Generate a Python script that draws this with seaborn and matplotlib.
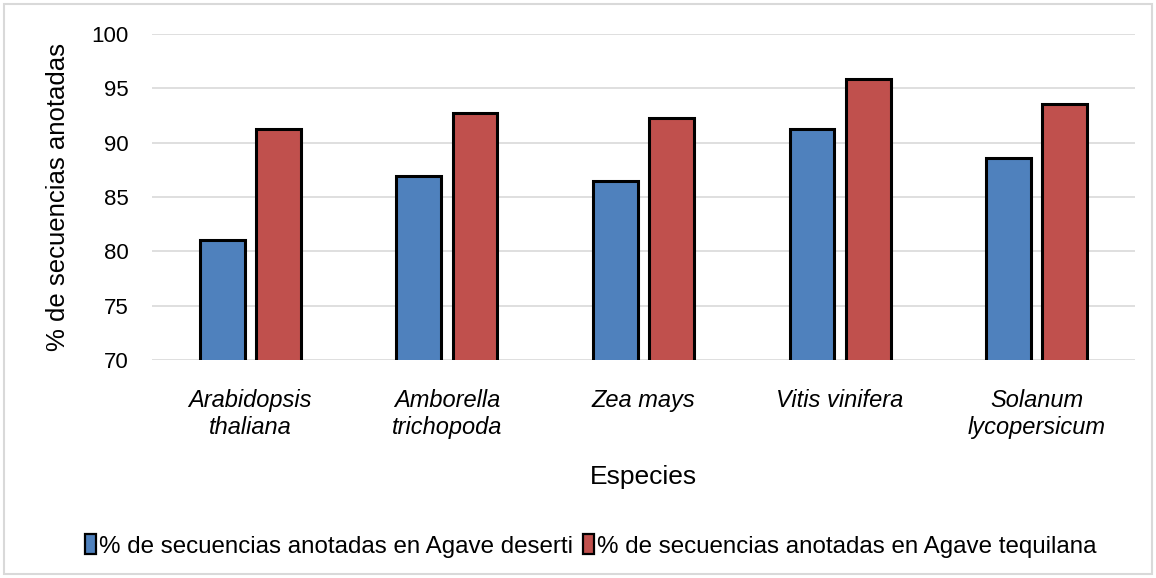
import matplotlib
matplotlib.use("Agg")
import matplotlib.pyplot as plt
import matplotlib.patches as mpatches
import seaborn as sns
import pandas as pd

categories = ["Arabidopsis\nthaliana", "Amborella\ntrichopoda", "Zea mays",
              "Vitis vinifera", "Solanum\nlycopersicum"]
series_names = ["% de secuencias anotadas en Agave deserti",
                "% de secuencias anotadas en Agave tequilana"]
deserti = [81.0, 86.9, 86.5, 91.3, 88.6]
tequilana = [91.3, 92.75, 92.3, 95.9, 93.6]
colors = ["#4F81BD", "#C0504D"]
yticks = [70, 75, 80, 85, 90, 95, 100]

rows = []
for c, v in zip(categories, deserti):
    rows.append({"Especie": c, "Serie": series_names[0], "Valor": v})
for c, v in zip(categories, tequilana):
    rows.append({"Especie": c, "Serie": series_names[1], "Valor": v})
df = pd.DataFrame(rows)

sns.set_theme(style="white")
plt.rcParams["font.family"] = ["Liberation Sans", "DejaVu Sans"]
plt.rcParams["text.color"] = "black"
plt.rcParams["axes.labelcolor"] = "black"
plt.rcParams["xtick.color"] = "black"
plt.rcParams["ytick.color"] = "black"

fig = plt.figure(figsize=(11.56, 5.78), dpi=100)
ax = fig.add_axes([152/1156, 1-360/578, (1135-152)/1156, (360-34)/578])

sns.barplot(data=df, x="Especie", y="Valor", hue="Serie", order=categories,
            hue_order=series_names, palette=dict(zip(series_names, colors)),
            width=0.57, gap=0.2, edgecolor="black", linewidth=2.2,
            legend=False, ax=ax, saturation=1)

ax.set_ylim(70, 100)
ax.set_yticks(yticks)
ax.set_yticklabels([str(t) for t in yticks], fontsize=16)
ax.yaxis.grid(True, color="#D9D9D9", linewidth=1.2)
ax.set_axisbelow(True)
for s in ax.spines.values():
    s.set_visible(False)
ax.tick_params(axis="both", length=0)
ax.tick_params(axis="y", pad=17)
ax.tick_params(axis="x", pad=21)
for lbl in ax.get_xticklabels():
    lbl.set_fontstyle("italic")
    lbl.set_fontsize(17)
    lbl.set_linespacing(1.2)
ax.set_xlabel("Especies", fontsize=19, labelpad=19)
ax.set_ylabel("% de secuencias anotadas", fontsize=18.5, labelpad=15)

handles = [mpatches.Patch(facecolor=c, edgecolor="black", linewidth=1.6, label=n)
           for c, n in zip(colors, series_names)]
fig.legend(handles=handles, loc="center", bbox_to_anchor=(0.511, 1-546/578),
           ncol=2, frameon=False, fontsize=17.4, handlelength=0.45, handleheight=0.85,
           handletextpad=0.12, columnspacing=0.45)

fig.add_artist(mpatches.Rectangle((4/1156, 4/578), 1148/1156, 570/578,
                                  transform=fig.transFigure, fill=False,
                                  edgecolor="#D9D9D9", linewidth=1.5))

fig.savefig("out.png", dpi=100)
